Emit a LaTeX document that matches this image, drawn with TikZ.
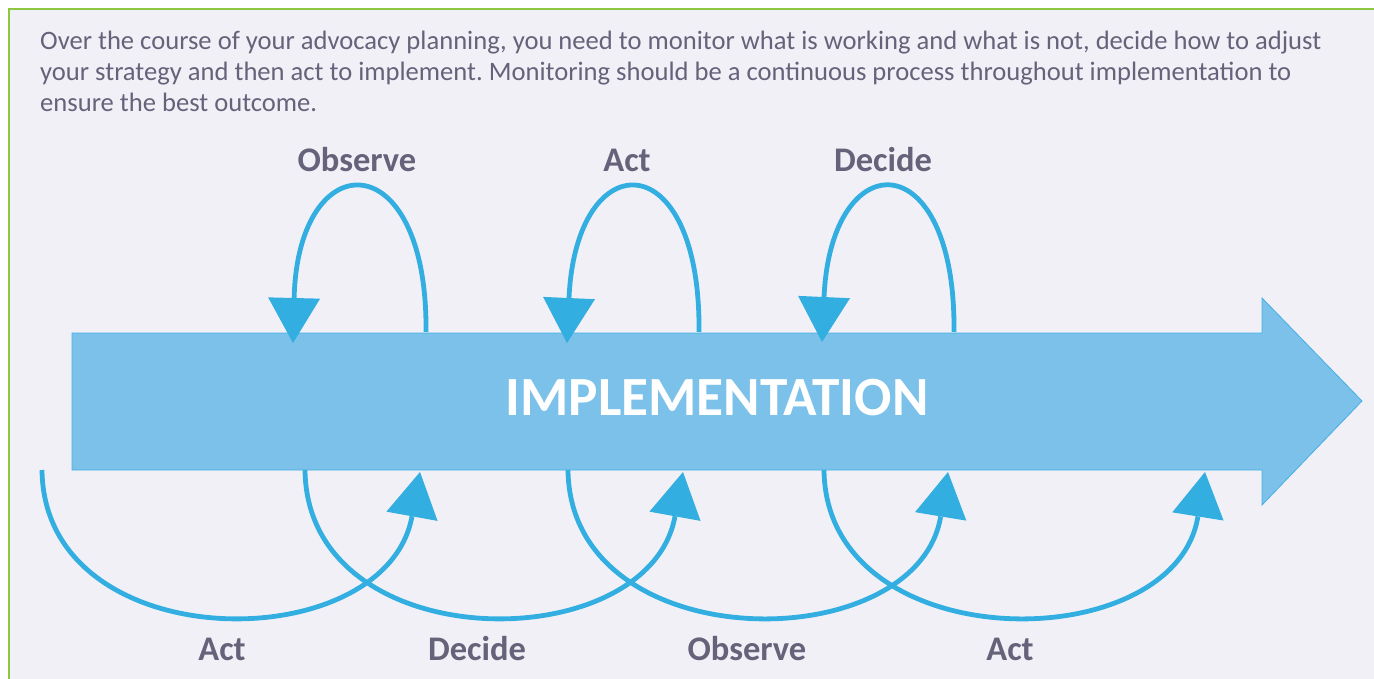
\documentclass[tikz,border=0pt]{standalone}
\usepackage{fontspec}
\setmainfont{Carlito}
\usetikzlibrary{arrows.meta}
\frenchspacing
\definecolor{bgl}{HTML}{F2F0F7}
\definecolor{frameg}{HTML}{8DC63F}
\definecolor{txtc}{HTML}{65627A}
\definecolor{loopc}{HTML}{33AEE0}
\definecolor{bigfill}{HTML}{7BC1E9}
\definecolor{bigedge}{HTML}{45B0E5}
\tikzset{
  para/.style={anchor=base west, inner sep=0pt, text=txtc, font=\fontsize{26.6}{31}\selectfont},
  lbl/.style={anchor=base, inner sep=0pt, text=txtc, font=\bfseries\fontsize{34.5}{40}\selectfont},
  loop/.style={draw=loopc, line width=4.8pt, -{Triangle[length=45pt,width=52pt,line width=0pt]}},
}
\begin{document}
\begin{tikzpicture}[x=1pt,y=-1pt]
\useasboundingbox (0,0) rectangle (1374,679);
\fill[white] (0,0) rectangle (1374,679);
\fill[bgl] (9,9) rectangle (1374,679);
\draw[frameg, line width=1.6pt] (9,679) -- (9,9) -- (1374,9);
% paragraph
\node[para] (p1) at (40,50) {Over the course of your advocacy planning, you need to monitor what is working and what is not, decide how to adjust};
\node[para] (p2) at (40,81) {your strategy and then act to implement. Monitoring should be a continuous process throughout implementation to};
\node[para] (p3) at (40,112) {ensure the best outcome.};
% big arrow
\draw[fill=bigfill, draw=bigedge, line width=0.8pt]
  (72,333) -- (1262,333) -- (1262,298) -- (1362,401) -- (1262,505) -- (1262,470) -- (72,470) -- cycle;
\node[inner sep=0pt, text=white, font=\bfseries\fontsize{55.3}{60}\selectfont] (impl) at (717,398) {IMPLEMENTATION};
% anchor coordinates
\coordinate (t1s) at (426,332); \coordinate (t1e) at (293,343);
\coordinate (t2s) at (699,332); \coordinate (t2e) at (567,343);
\coordinate (t3s) at (954,332); \coordinate (t3e) at (822,342);
\coordinate (b1s) at (42,470);  \coordinate (b1e) at (420,472);
\coordinate (b2s) at (305,470); \coordinate (b2e) at (683,472);
\coordinate (b3s) at (568,470); \coordinate (b3e) at (948,472);
\coordinate (b4s) at (824,470); \coordinate (b4e) at (1205,472);
% top loops
\draw[loop] (t1s) .. controls (428,142) and (298,142) .. (t1e);
\draw[loop] (t2s) .. controls (701,142) and (576,142) .. (t2e);
\draw[loop] (t3s) .. controls (956,142) and (831,142) .. (t3e);
% bottom loops
\draw[loop] (b1s) .. controls (44,660) and (386,660) .. (b1e);
\draw[loop] (b2s) .. controls (307,660) and (649,660) .. (b2e);
\draw[loop] (b3s) .. controls (570,660) and (917,660) .. (b3e);
\draw[loop] (b4s) .. controls (826,660) and (1175,660) .. (b4e);
% labels
\node[lbl] (lt1) at (357,172) {Observe};
\node[lbl] (lt2) at (627,172) {Act};
\node[lbl] (lt3) at (883,172) {Decide};
\node[lbl] (lb1) at (222,660) {Act};
\node[lbl] (lb2) at (477,660) {Decide};
\node[lbl] (lb3) at (747,660) {Observe};
\node[lbl] (lb4) at (1010,660) {Act};
\end{tikzpicture}
\end{document}
